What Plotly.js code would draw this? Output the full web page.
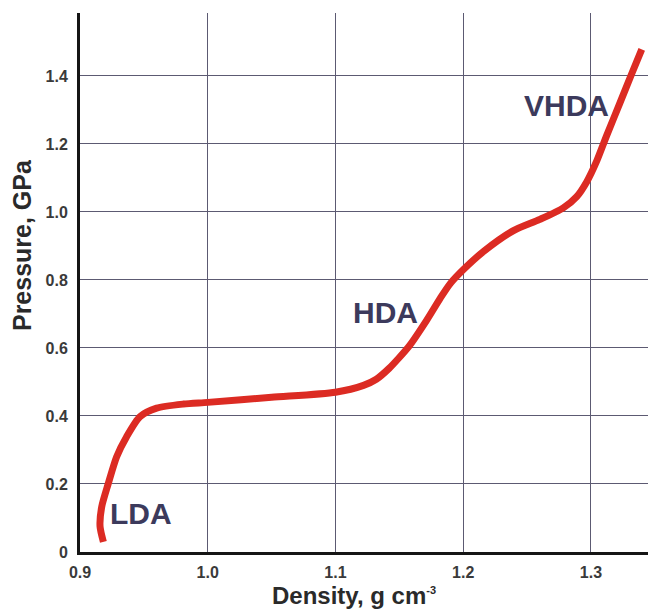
<!DOCTYPE html>
<html>
<head>
<meta charset="utf-8">
<script src="https://cdn.plot.ly/plotly-3.0.1.min.js"></script>
<style>
html,body{margin:0;padding:0;background:#fff;}
#chart{width:649px;height:613px;}
</style>
</head>
<body>
<div id="chart"></div>
<script>
// Density (g cm^-3) and pressure (GPa)
const density = [0.9183, 0.9157, 0.917, 0.9222, 0.9287, 0.9365, 0.947, 0.960, 0.981, 1.0, 1.05, 1.1, 1.122, 1.132, 1.142, 1.150, 1.158, 1.1715, 1.182, 1.190, 1.2, 1.2164, 1.2394, 1.260, 1.2784, 1.2889, 1.2968, 1.3046, 1.3124, 1.3229, 1.3321, 1.3398];
const pressure = [0.030, 0.075, 0.133, 0.202, 0.280, 0.339, 0.398, 0.423, 0.435, 0.440, 0.455, 0.470, 0.490, 0.508, 0.540, 0.572, 0.607, 0.682, 0.746, 0.790, 0.830, 0.885, 0.945, 0.978, 1.012, 1.045, 1.089, 1.150, 1.225, 1.322, 1.408, 1.478];

const xTickVals = [0.9, 1.0, 1.1, 1.2, 1.3];
const xTickText = ["0.9", "1.0", "1.1", "1.2", "1.3"];
const yTickVals = [0, 0.2, 0.4, 0.6, 0.8, 1.0, 1.2, 1.4];
const yTickText = ["0", "0.2", "0.4", "0.6", "0.8", "1.0", "1.2", "1.4"];

const phaseNames = ["LDA", "HDA", "VHDA"];
const phaseX = [0.948, 1.1388, 1.2806];
const phaseY = [0.112, 0.705, 1.314];

const xTitle = "Density, g cm<sup><span style='font-size:11px'>-3</span></sup>";
const yTitle = "Pressure, GPa";

const gridColor = "#5c5a72";
const fontFam = "Liberation Sans, Arial, sans-serif";

const trace = {
  x: density, y: pressure, type: "scatter", mode: "lines",
  line: {color: "#dc2b23", width: 7, shape: "spline", smoothing: 0.7},
  hoverinfo: "skip"
};

const annotations = phaseNames.map((t, i) => ({
  x: phaseX[i], y: phaseY[i], xref: "x", yref: "y", text: t, showarrow: false,
  font: {family: fontFam, size: 30, color: "#3c3a5c", weight: "bold"},
  xanchor: "center", yanchor: "middle"
}));

annotations.push({
  x: 0.4824, y: -0.080, xref: "paper", yref: "paper", text: xTitle, showarrow: false,
  font: {family: fontFam, size: 24, color: "#2a2a2a", weight: "bold"},
  xanchor: "center", yanchor: "middle"
});
annotations.push({
  x: -0.102, y: 0.5696, xref: "paper", yref: "paper", text: yTitle, showarrow: false,
  textangle: -90,
  font: {family: fontFam, size: 25, color: "#2a2a2a", weight: "bold"},
  xanchor: "center", yanchor: "middle"
});

const layout = {
  width: 649, height: 613,
  margin: {l: 80, r: 1, t: 13, b: 61},
  paper_bgcolor: "#ffffff", plot_bgcolor: "#ffffff",
  showlegend: false,
  xaxis: {
    range: [0.9, 1.3447], tickvals: xTickVals, ticktext: xTickText,
    showgrid: true, gridcolor: gridColor, gridwidth: 1,
    zeroline: false, showline: true, linecolor: "#151515", linewidth: 3,
    ticks: "", ticklabelstandoff: 4,
    tickfont: {family: fontFam, size: 16, color: "#3a3a3a", weight: "bold"},
    fixedrange: true
  },
  yaxis: {
    range: [0, 1.585], tickvals: yTickVals, ticktext: yTickText,
    showgrid: true, gridcolor: gridColor, gridwidth: 1,
    zeroline: false, showline: true, linecolor: "#151515", linewidth: 3,
    ticks: "", ticklabelstandoff: 6,
    tickfont: {family: fontFam, size: 16, color: "#3a3a3a", weight: "bold"},
    fixedrange: true
  },
  annotations: annotations
};

Plotly.newPlot("chart", [trace], layout, {displayModeBar: false, staticPlot: true});
</script>
</body>
</html>
